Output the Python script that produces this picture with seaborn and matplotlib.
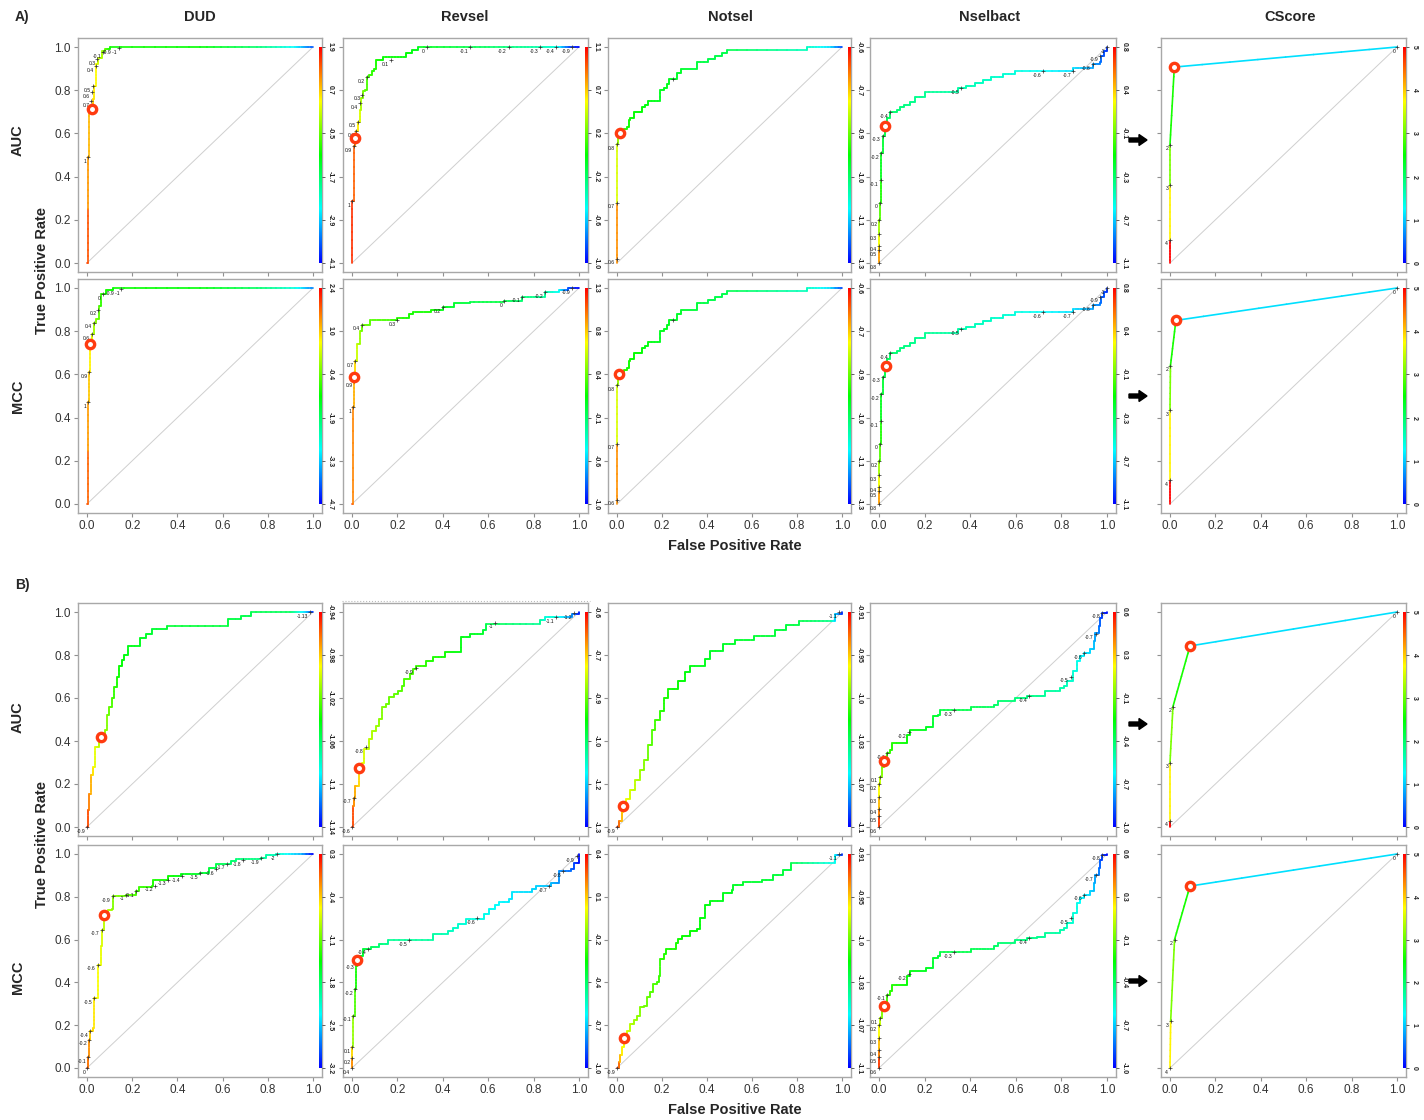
import numpy as np
import matplotlib
matplotlib.use("Agg")
import matplotlib.pyplot as plt
import seaborn as sns
from matplotlib.collections import LineCollection
from matplotlib.colors import LinearSegmentedColormap, Normalize
from matplotlib.patches import FancyArrow
from matplotlib.lines import Line2D
from matplotlib.transforms import IdentityTransform

sns.set_style("white")
plt.rcParams['font.family'] = ['Liberation Sans', 'DejaVu Sans']

# ---------------- data ----------------
col_titles = ['DUD', 'Revsel', 'Notsel', 'Nselbact', 'CScore']
row_names = ['AUC', 'MCC']
tick_labels = ['0.0', '0.2', '0.4', '0.6', '0.8', '1.0']

# A) DUD
a_dud_auc_fpr = [0, 0.003, 0.005, 0.009, 0.02, 0.026, 0.033, 0.04, 0.05, 0.065, 0.08, 0.1, 0.5, 0.75, 0.92, 1.0]
a_dud_auc_tpr = [0, 0.25, 0.49, 0.71, 0.72, 0.76, 0.82, 0.92, 0.95, 0.98, 0.99, 1.0, 1.0, 1.0, 1.0, 1.0]
a_dud_auc_cut = [1.9, 1.4, 1.0, 0.8, 0.75, 0.7, 0.5, 0.4, 0.1, -0.1, -0.5, -1.0, -1.1, -1.7, -2.6, -3.6]
a_dud_auc_best = (0.02, 0.715)
a_dud_auc_bar = ['1.9', '0.7', '-0.5', '-1.7', '-2.9', '-4.1']
a_dud_auc_lbl = [(0.004, 0.49, '1'), (0.018, 0.75, '0.7'), (0.022, 0.79, '0.6'), (0.026, 0.82, '0.5'),
                 (0.04, 0.91, '0.4'), (0.045, 0.945, '0.3'), (0.07, 0.975, '-0.1'), (0.14, 0.995, '-0.9 -1')]

a_dud_mcc_fpr = [0, 0.003, 0.006, 0.01, 0.012, 0.02, 0.03, 0.04, 0.052, 0.06, 0.085, 0.115, 0.5, 0.75, 0.92, 1.0]
a_dud_mcc_tpr = [0, 0.245, 0.47, 0.61, 0.742, 0.785, 0.84, 0.855, 0.915, 0.97, 0.99, 1.0, 1.0, 1.0, 1.0, 1.0]
a_dud_mcc_cut = [2.4, 1.7, 1.3, 1.0, 0.7, 0.4, 0.0, -0.2, -0.5, -0.8, -1.0, -1.1, -1.2, -1.8, -2.7, -3.8]
a_dud_mcc_best = (0.012, 0.742)
a_dud_mcc_bar = ['2.4', '1.0', '-0.4', '-1.9', '-3.3', '-4.7']
a_dud_mcc_lbl = [(0.006, 0.47, '1'), (0.01, 0.61, '0.9'), (0.02, 0.785, '0.6'), (0.03, 0.84, '0.4'),
                 (0.05, 0.9, '0.2'), (0.07, 0.97, '0'), (0.15, 0.995, '-0.9 -1')]

# A) Revsel
a_rev_auc_fpr = [0, 0.002, 0.007, 0.015, 0.019, 0.026, 0.034, 0.041, 0.048, 0.059, 0.066, 0.077, 0.088,
                 0.095, 0.107, 0.136, 0.24, 0.265, 0.29, 0.52, 0.69, 0.83, 0.9, 0.95, 1.0]
a_rev_auc_tpr = [0, 0.285, 0.54, 0.58, 0.61, 0.655, 0.71, 0.765, 0.795, 0.80, 0.86, 0.87, 0.89,
                 0.90, 0.94, 0.955, 0.97, 0.985, 1.0, 1.0, 1.0, 1.0, 1.0, 1.0, 1.0]
a_rev_auc_cut = [1.1, 1.0, 0.9, 0.8, 0.7, 0.6, 0.5, 0.4, 0.3, 0.25, 0.2, 0.18, 0.15,
                 0.12, 0.1, 0.06, 0.04, 0.02, 0.0, -0.1, -0.2, -0.3, -0.4, -0.8, -1.0]
a_rev_auc_best = (0.015, 0.58)
a_rev_auc_bar = ['1.1', '0.7', '0.2', '-0.2', '-0.6', '-1.0']
a_rev_auc_lbl = [(0.002, 0.285, '1'), (0.007, 0.54, '0.9'), (0.019, 0.61, '0.6'), (0.026, 0.655, '0.5'),
                 (0.034, 0.74, '0.4'), (0.045, 0.78, '0.3'), (0.066, 0.86, '0.2'), (0.17, 0.94, '0.1'),
                 (0.33, 1.0, '0'), (0.52, 1.0, '-0.1'), (0.69, 1.0, '-0.2'), (0.83, 1.0, '-0.3'),
                 (0.9, 1.0, '-0.4'), (0.97, 1.0, '-0.9')]

a_rev_mcc_fpr = [0, 0.005, 0.01, 0.015, 0.02, 0.035, 0.044, 0.08, 0.17, 0.2, 0.25, 0.27, 0.35, 0.4,
                 0.45, 0.52, 0.67, 0.75, 0.85, 0.91, 0.95, 1.0]
a_rev_mcc_tpr = [0, 0.45, 0.59, 0.66, 0.74, 0.8, 0.83, 0.85, 0.85, 0.86, 0.88, 0.89, 0.90, 0.91,
                 0.93, 0.935, 0.94, 0.96, 0.98, 0.99, 1.0, 1.0]
a_rev_mcc_cut = [1.3, 1.0, 0.9, 0.8, 0.6, 0.5, 0.4, 0.35, 0.3, 0.25, 0.2, 0.2, 0.2, 0.1,
                 0.05, 0.0, 0.0, -0.1, -0.2, -0.4, -0.8, -1.0]
a_rev_mcc_best = (0.01, 0.59)
a_rev_mcc_bar = ['1.3', '0.8', '0.4', '-0.1', '-0.6', '-1.0']
a_rev_mcc_lbl = [(0.005, 0.45, '1'), (0.01, 0.57, '0.9'), (0.015, 0.66, '0.7'), (0.044, 0.83, '0.4'),
                 (0.2, 0.85, '0.3'), (0.4, 0.91, '0.2'), (0.67, 0.94, '0'), (0.75, 0.96, '-0.1'),
                 (0.85, 0.98, '-0.2'), (0.97, 1.0, '-0.9')]

# A) Notsel (same curve for AUC and MCC)
a_not_fpr = [0, 0, 0, 0.003, 0.015, 0.03, 0.044, 0.052, 0.059, 0.077, 0.111, 0.126, 0.136, 0.189,
             0.21, 0.222, 0.232, 0.266, 0.284, 0.354, 0.406, 0.436, 0.468, 0.49, 0.845, 0.95, 1.0]
a_not_tpr = [0, 0.28, 0.55, 0.58, 0.60, 0.62, 0.63, 0.66, 0.67, 0.70, 0.72, 0.73, 0.75, 0.80,
             0.81, 0.83, 0.85, 0.88, 0.90, 0.93, 0.945, 0.957, 0.972, 0.988, 1.0, 1.0, 1.0]
a_not_cut = [-0.6, -0.7, -0.8, -0.85, -0.9, -0.92, -0.93, -0.94, -0.94, -0.95, -0.95, -0.96, -0.96, -0.97,
             -0.97, -0.97, -0.97, -0.98, -0.98, -0.99, -1.0, -1.0, -1.0, -1.0, -1.08, -1.15, -1.25]
a_not_auc_best = (0.015, 0.60)
a_not_mcc_best = (0.01, 0.60)
a_not_bar = ['-0.6', '-0.7', '-0.9', '-1.0', '-1.1', '-1.3']
a_not_lbl = [(0, 0.02, '0.6'), (0, 0.28, '0.7'), (0, 0.55, '0.8'), (0.25, 0.85, '')]

# A) Nselbact (same curve for AUC and MCC)
a_nsb_fpr = [0, 0, 0, 0, 0.001, 0.004, 0.007, 0.01, 0.016, 0.026, 0.037, 0.048, 0.077, 0.092, 0.11, 0.136,
             0.158, 0.2, 0.345, 0.38, 0.42, 0.458, 0.49, 0.545, 0.597, 0.853, 0.937, 0.97, 0.972, 0.985, 1.0]
a_nsb_tpr = [0, 0.06, 0.08, 0.135, 0.2, 0.28, 0.385, 0.51, 0.59, 0.635, 0.67, 0.70, 0.71, 0.72, 0.73, 0.745,
             0.77, 0.79, 0.81, 0.82, 0.835, 0.845, 0.86, 0.875, 0.888, 0.903, 0.92, 0.93, 0.96, 0.98, 1.0]
a_nsb_cut = [0.8, 0.5, 0.4, 0.3, 0.15, 0.0, -0.1, -0.2, -0.24, -0.28, -0.31, -0.34, -0.36, -0.38, -0.39, -0.4,
             -0.41, -0.42, -0.46, -0.48, -0.5, -0.51, -0.52, -0.54, -0.56, -0.68, -0.8, -0.85, -0.9, -0.95, -1.0]
a_nsb_auc_best = (0.026, 0.635)
a_nsb_mcc_best = (0.03, 0.64)
a_nsb_bar = ['0.8', '0.4', '-0.1', '-0.3', '-0.7', '-1.1']
a_nsb_lbl = [(0, 0.0, '0.8'), (0, 0.06, '0.5'), (0, 0.08, '0.4'), (0, 0.135, '0.3'), (0.001, 0.2, '0.2'),
             (0.004, 0.28, '0'), (0.007, 0.385, '-0.1'), (0.01, 0.51, '-0.2'), (0.016, 0.59, '-0.3'),
             (0.05, 0.70, '-0.4'), (0.36, 0.81, '-0.5'), (0.72, 0.888, '-0.6'), (0.85, 0.888, '-0.7'),
             (0.937, 0.92, '-0.8'), (0.97, 0.96, '-0.9'), (1.0, 1.0, '-1')]

# A) CScore
a_cs_auc_fpr = [0, 0, 0, 0, 0, 0, 0, 0.019, 0.019, 1.0]
a_cs_auc_tpr = [0, 0.108, 0.108, 0.363, 0.363, 0.548, 0.548, 0.907, 0.907, 1.0]
a_cs_auc_cut = [5.0, 5.0, 3.8, 3.8, 3.1, 3.1, 2.6, 2.6, 1.1, 1.1]
a_cs_auc_best = (0.019, 0.907)
a_cs_auc_lbl = [(0, 0.108, '4'), (0, 0.363, '3'), (0, 0.548, '2'), (1.0, 1.0, '0')]
a_cs_mcc_fpr = [0, 0, 0, 0, 0, 0.002, 0.002, 0.026, 0.026, 1.0]
a_cs_mcc_tpr = [0, 0.11, 0.11, 0.435, 0.435, 0.64, 0.64, 0.85, 0.85, 1.0]
a_cs_mcc_cut = [5.0, 5.0, 3.8, 3.8, 3.1, 3.1, 2.6, 2.6, 1.1, 1.1]
a_cs_mcc_best = (0.026, 0.85)
a_cs_mcc_lbl = [(0, 0.11, '4'), (0, 0.435, '3'), (0.002, 0.64, '2'), (1.0, 1.0, '0')]
cs_bar = ['5', '4', '3', '2', '1', '0']

# B) DUD
b_dud_auc_fpr = [0, 0.006, 0.01, 0.018, 0.025, 0.035, 0.05, 0.055, 0.062, 0.081, 0.087, 0.099, 0.109, 0.121,
                 0.131, 0.143, 0.154, 0.165, 0.18, 0.235, 0.261, 0.286, 0.355, 0.623, 0.683, 0.727, 0.9, 0.97, 1.0]
b_dud_auc_tpr = [0, 0.078, 0.155, 0.24, 0.28, 0.373, 0.373, 0.404, 0.417, 0.45, 0.52, 0.56, 0.6, 0.653,
                 0.7, 0.747, 0.778, 0.80, 0.84, 0.879, 0.9, 0.922, 0.936, 0.967, 0.983, 1.0, 1.0, 1.0, 1.0]
b_dud_auc_cut = [-0.94, -0.955, -0.965, -0.975, -0.985, -0.995, -1.0, -1.003, -1.006, -1.01, -1.015, -1.02,
                 -1.025, -1.03, -1.035, -1.038, -1.04, -1.042, -1.044, -1.046, -1.048, -1.05, -1.05, -1.052,
                 -1.054, -1.055, -1.058, -1.1, -1.13]
b_dud_auc_best = (0.062, 0.417)
b_dud_auc_bar = ['-0.94', '-0.98', '-1.02', '-1.06', '-1.1', '-1.14']
b_dud_auc_lbl = [(0, 0, '-0.9'), (0.985, 1.0, '-1.13')]

b_dud_mcc_fpr = [0, 0.006, 0.01, 0.013, 0.025, 0.032, 0.047, 0.062, 0.065, 0.077, 0.092, 0.109, 0.114, 0.173,
                 0.217, 0.232, 0.288, 0.291, 0.357, 0.416, 0.498, 0.542, 0.572, 0.638, 0.66, 0.771, 0.793,
                 0.838, 0.95, 1.0]
b_dud_mcc_tpr = [0, 0.05, 0.132, 0.171, 0.187, 0.327, 0.483, 0.569, 0.646, 0.713, 0.74, 0.745, 0.802, 0.81,
                 0.826, 0.846, 0.852, 0.877, 0.896, 0.908, 0.911, 0.935, 0.955, 0.966, 0.977, 0.98, 0.997,
                 1.0, 1.0, 1.0]
b_dud_mcc_cut = [0.3, -0.1, -0.2, -0.4, -0.45, -0.5, -0.6, -0.65, -0.7, -0.8, -0.85, -0.9, -1.0, -1.1,
                 -1.2, -1.25, -1.3, -1.35, -1.4, -1.5, -1.6, -1.65, -1.7, -1.8, -1.85, -1.9, -2.0,
                 -2.1, -2.6, -3.2]
b_dud_mcc_best = (0.077, 0.713)
b_dud_mcc_bar = ['0.3', '-0.4', '-1.1', '-1.8', '-2.5', '-3.2']
b_dud_mcc_lbl = [(0, 0, '0'), (0.006, 0.05, '-0.1'), (0.01, 0.132, '-0.2'), (0.013, 0.171, '-0.4'),
                 (0.032, 0.327, '-0.5'), (0.047, 0.483, '-0.6'), (0.065, 0.646, '-0.7'), (0.114, 0.802, '-0.9'),
                 (0.173, 0.81, '-1'), (0.217, 0.826, '-1.1'), (0.3, 0.852, '-1.2'), (0.36, 0.88, '-1.3'),
                 (0.42, 0.895, '-1.4'), (0.5, 0.91, '-1.5'), (0.57, 0.93, '-1.6'), (0.62, 0.955, '-1.7'),
                 (0.69, 0.97, '-1.8'), (0.77, 0.98, '-1.9'), (0.84, 1.0, '-2')]

# B) Revsel
b_rev_auc_fpr = [0, 0.004, 0.007, 0.015, 0.033, 0.045, 0.052, 0.075, 0.09, 0.104, 0.119, 0.134, 0.149, 0.164,
                 0.187, 0.201, 0.22, 0.231, 0.254, 0.269, 0.284, 0.328, 0.358, 0.41, 0.478, 0.522, 0.575,
                 0.59, 0.828, 0.851, 0.896, 0.97, 1.0]
b_rev_auc_tpr = [0, 0.097, 0.136, 0.19, 0.276, 0.299, 0.361, 0.408, 0.447, 0.47, 0.502, 0.556, 0.572, 0.603,
                 0.618, 0.634, 0.657, 0.688, 0.712, 0.735, 0.75, 0.774, 0.79, 0.813, 0.883, 0.899, 0.914,
                 0.945, 0.961, 0.977, 0.977, 0.99, 1.0]
b_rev_auc_cut = [-0.6, -0.65, -0.7, -0.72, -0.75, -0.78, -0.8, -0.82, -0.83, -0.84, -0.85, -0.86, -0.87, -0.88,
                 -0.88, -0.89, -0.89, -0.9, -0.9, -0.9, -0.91, -0.92, -0.93, -0.94, -0.96, -0.97, -0.98,
                 -1.0, -1.05, -1.1, -1.1, -1.2, -1.28]
b_rev_auc_best = (0.033, 0.276)
b_rev_auc_bar = ['-0.6', '-0.7', '-0.9', '-1.0', '-1.2', '-1.3']
b_rev_auc_lbl = [(0, 0, '-0.6'), (0.007, 0.136, '-0.7'), (0.06, 0.37, '-0.8'), (0.28, 0.74, '-0.9'),
                 (0.63, 0.95, '-1'), (0.9, 0.977, '-1.1'), (0.98, 0.995, '-1.2')]

b_rev_mcc_fpr = [0, 0.0, 0.002, 0.004, 0.012, 0.019, 0.023, 0.034, 0.048, 0.07, 0.085, 0.119, 0.158, 0.359,
                 0.422, 0.444, 0.466, 0.502, 0.582, 0.605, 0.63, 0.648, 0.692, 0.704, 0.795, 0.81, 0.876,
                 0.912, 0.963, 0.978, 1.0]
b_rev_mcc_tpr = [0, 0.047, 0.098, 0.245, 0.369, 0.477, 0.504, 0.524, 0.555, 0.558, 0.567, 0.578, 0.597, 0.625,
                 0.64, 0.656, 0.671, 0.695, 0.718, 0.741, 0.76, 0.775, 0.788, 0.822, 0.837, 0.85, 0.865,
                 0.919, 0.929, 0.956, 1.0]
b_rev_mcc_cut = [0.4, 0.2, 0.1, -0.1, -0.2, -0.28, -0.3, -0.33, -0.37, -0.4, -0.42, -0.45, -0.5, -0.52,
                 -0.55, -0.57, -0.58, -0.6, -0.62, -0.63, -0.64, -0.65, -0.67, -0.68, -0.7, -0.71, -0.74,
                 -0.8, -0.85, -0.9, -0.98]
b_rev_mcc_best = (0.023, 0.504)
b_rev_mcc_bar = ['0.4', '0.1', '-0.2', '-0.4', '-0.7', '-1.0']
b_rev_mcc_lbl = [(0, 0, '0.4'), (0.002, 0.047, '0.2'), (0.002, 0.098, '0.1'), (0.004, 0.245, '-0.1'),
                 (0.012, 0.369, '-0.2'), (0.02, 0.49, '-0.3'), (0.07, 0.558, '-0.4'), (0.25, 0.597, '-0.5'),
                 (0.55, 0.7, '-0.6'), (0.87, 0.85, '-0.7'), (0.93, 0.92, '-0.8'), (0.99, 0.99, '-0.9')]

# B) Notsel
b_not_auc_fpr = [0, 0.01, 0.02, 0.027, 0.04, 0.058, 0.08, 0.1, 0.12, 0.138, 0.155, 0.169, 0.19, 0.21, 0.227,
                 0.27, 0.3, 0.324, 0.39, 0.413, 0.47, 0.524, 0.61, 0.7, 0.75, 0.81, 0.95, 0.97, 1.0]
b_not_auc_tpr = [0, 0.03, 0.07, 0.10, 0.13, 0.17, 0.22, 0.265, 0.31, 0.38, 0.45, 0.5, 0.54, 0.6, 0.64,
                 0.68, 0.72, 0.75, 0.78, 0.82, 0.85, 0.87, 0.89, 0.915, 0.94, 0.96, 0.96, 0.99, 1.0]
b_not_auc_cut = [-0.91, -0.93, -0.945, -0.955, -0.96, -0.965, -0.97, -0.975, -0.98, -0.985, -0.99, -0.993,
                 -0.996, -1.0, -1.002, -1.004, -1.006, -1.008, -1.01, -1.011, -1.012, -1.013, -1.014, -1.015,
                 -1.016, -1.018, -1.03, -1.06, -1.09]
b_not_auc_best = (0.027, 0.10)
b_not_mcc_fpr = [0, 0.007, 0.015, 0.022, 0.03, 0.044, 0.059, 0.074, 0.089, 0.1, 0.118, 0.133, 0.148, 0.16,
                 0.177, 0.185, 0.192, 0.207, 0.218, 0.263, 0.273, 0.288, 0.325, 0.354, 0.369, 0.391, 0.414,
                 0.473, 0.51, 0.517, 0.562, 0.643, 0.694, 0.739, 0.775, 0.967, 1.0]
b_not_mcc_tpr = [0, 0.028, 0.059, 0.098, 0.141, 0.175, 0.206, 0.222, 0.245, 0.284, 0.291, 0.33, 0.353, 0.392,
                 0.4, 0.431, 0.508, 0.532, 0.555, 0.586, 0.602, 0.617, 0.64, 0.648, 0.702, 0.764, 0.78,
                 0.819, 0.834, 0.853, 0.868, 0.88, 0.904, 0.927, 0.958, 0.997, 1.0]
b_not_mcc_cut = [-0.91, -0.93, -0.945, -0.955, -0.96, -0.965, -0.97, -0.975, -0.978, -0.98, -0.983, -0.985,
                 -0.988, -0.99, -0.992, -0.994, -0.996, -0.998, -1.0, -1.0, -1.002, -1.003, -1.004, -1.005,
                 -1.006, -1.007, -1.008, -1.01, -1.01, -1.012, -1.013, -1.014, -1.015, -1.016, -1.018,
                 -1.05, -1.09]
b_not_mcc_best = (0.03, 0.141)
b_not_bar = ['-0.91', '-0.95', '-1.0', '-1.03', '-1.07', '-1.1']
b_not_lbl = [(0, 0, '-0.9'), (0.985, 1.0, '-1.1')]

# B) Nselbact (same curve for AUC and MCC)
b_nsb_fpr = [0, 0, 0, 0, 0, 0.004, 0.012, 0.022, 0.034, 0.048, 0.056, 0.122, 0.136, 0.208, 0.237, 0.259,
             0.268, 0.403, 0.505, 0.524, 0.597, 0.649, 0.692, 0.729, 0.795, 0.813, 0.824, 0.853, 0.868,
             0.883, 0.897, 0.927, 0.941, 0.949, 0.963, 0.968, 0.978, 1.0]
b_nsb_tpr = [0, 0.05, 0.085, 0.14, 0.2, 0.234, 0.28, 0.308, 0.343, 0.358, 0.389, 0.428, 0.452, 0.467, 0.514,
             0.522, 0.542, 0.558, 0.569, 0.584, 0.6, 0.607, 0.611, 0.631, 0.646, 0.654, 0.678, 0.724, 0.771,
             0.794, 0.807, 0.826, 0.864, 0.903, 0.935, 0.974, 0.997, 1.0]
b_nsb_cut = [0.6, 0.5, 0.4, 0.3, 0.2, 0.1, 0.0, -0.05, -0.1, -0.12, -0.15, -0.2, -0.22, -0.25, -0.27, -0.28,
             -0.3, -0.32, -0.35, -0.37, -0.39, -0.4, -0.42, -0.44, -0.46, -0.48, -0.5, -0.53, -0.56, -0.6,
             -0.62, -0.66, -0.7, -0.74, -0.8, -0.85, -0.9, -0.98]
b_nsb_auc_best = (0.022, 0.308)
b_nsb_mcc_best = (0.022, 0.29)
b_nsb_bar = ['0.6', '0.3', '-0.1', '-0.4', '-0.7', '-1.0']
b_nsb_lbl = [(0, 0, '0.6'), (0, 0.05, '0.5'), (0, 0.085, '0.4'), (0, 0.14, '0.3'), (0, 0.2, '0.2'),
             (0.004, 0.234, '0.1'), (0.034, 0.343, '-0.1'), (0.13, 0.44, '-0.2'), (0.33, 0.542, '-0.3'),
             (0.66, 0.607, '-0.4'), (0.84, 0.7, '-0.5'), (0.9, 0.81, '-0.6'), (0.95, 0.9, '-0.7'),
             (0.98, 0.997, '-0.8')]

# B) CScore
b_cs_auc_fpr = [0, 0, 0, 0, 0, 0.013, 0.013, 0.088, 0.088, 1.0]
b_cs_auc_tpr = [0, 0.03, 0.03, 0.3, 0.3, 0.56, 0.56, 0.842, 0.842, 1.0]
b_cs_auc_cut = [5.0, 5.0, 3.8, 3.8, 3.1, 3.1, 2.6, 2.6, 1.1, 1.1]
b_cs_auc_best = (0.088, 0.842)
b_cs_auc_lbl = [(0, 0.03, '4'), (0, 0.3, '3'), (0.013, 0.56, '2'), (1.0, 1.0, '0')]
b_cs_mcc_fpr = [0, 0.003, 0.003, 0.02, 0.02, 0.088, 0.088, 1.0]
b_cs_mcc_tpr = [0, 0.22, 0.22, 0.6, 0.6, 0.85, 0.85, 1.0]
b_cs_mcc_cut = [3.8, 3.8, 3.1, 3.1, 2.6, 2.6, 1.1, 1.1]
b_cs_mcc_best = (0.088, 0.85)
b_cs_mcc_lbl = [(0, 0, '4'), (0.003, 0.22, '3'), (0.02, 0.6, '2'), (1.0, 1.0, '0')]

# ---------------- layout (pixel positions of data 0 and 1) ----------------
W, H = 1424, 1120
col_px = [(87, 313), (352, 579), (617, 842), (879, 1107), (1170, 1397)]
row_px = [(47, 263), (288, 504), (612, 827), (854, 1068)]

# (row, col, fpr, tpr, cut, best, bar, labels, stepped)
panels = [
    (0, 0, a_dud_auc_fpr, a_dud_auc_tpr, a_dud_auc_cut, a_dud_auc_best, a_dud_auc_bar, a_dud_auc_lbl, True),
    (1, 0, a_dud_mcc_fpr, a_dud_mcc_tpr, a_dud_mcc_cut, a_dud_mcc_best, a_dud_mcc_bar, a_dud_mcc_lbl, True),
    (0, 1, a_rev_auc_fpr, a_rev_auc_tpr, a_rev_auc_cut, a_rev_auc_best, a_rev_auc_bar, a_rev_auc_lbl, True),
    (1, 1, a_rev_mcc_fpr, a_rev_mcc_tpr, a_rev_mcc_cut, a_rev_mcc_best, a_rev_mcc_bar, a_rev_mcc_lbl, True),
    (0, 2, a_not_fpr, a_not_tpr, a_not_cut, a_not_auc_best, a_not_bar, a_not_lbl, True),
    (1, 2, a_not_fpr, a_not_tpr, a_not_cut, a_not_mcc_best, a_not_bar, a_not_lbl, True),
    (0, 3, a_nsb_fpr, a_nsb_tpr, a_nsb_cut, a_nsb_auc_best, a_nsb_bar, a_nsb_lbl, True),
    (1, 3, a_nsb_fpr, a_nsb_tpr, a_nsb_cut, a_nsb_mcc_best, a_nsb_bar, a_nsb_lbl, True),
    (0, 4, a_cs_auc_fpr, a_cs_auc_tpr, a_cs_auc_cut, a_cs_auc_best, cs_bar, a_cs_auc_lbl, False),
    (1, 4, a_cs_mcc_fpr, a_cs_mcc_tpr, a_cs_mcc_cut, a_cs_mcc_best, cs_bar, a_cs_mcc_lbl, False),
    (2, 0, b_dud_auc_fpr, b_dud_auc_tpr, b_dud_auc_cut, b_dud_auc_best, b_dud_auc_bar, b_dud_auc_lbl, True),
    (3, 0, b_dud_mcc_fpr, b_dud_mcc_tpr, b_dud_mcc_cut, b_dud_mcc_best, b_dud_mcc_bar, b_dud_mcc_lbl, True),
    (2, 1, b_rev_auc_fpr, b_rev_auc_tpr, b_rev_auc_cut, b_rev_auc_best, b_rev_auc_bar, b_rev_auc_lbl, True),
    (3, 1, b_rev_mcc_fpr, b_rev_mcc_tpr, b_rev_mcc_cut, b_rev_mcc_best, b_rev_mcc_bar, b_rev_mcc_lbl, True),
    (2, 2, b_not_auc_fpr, b_not_auc_tpr, b_not_auc_cut, b_not_auc_best, b_not_bar, b_not_lbl, True),
    (3, 2, b_not_mcc_fpr, b_not_mcc_tpr, b_not_mcc_cut, b_not_mcc_best, b_not_bar, b_not_lbl, True),
    (2, 3, b_nsb_fpr, b_nsb_tpr, b_nsb_cut, b_nsb_auc_best, b_nsb_bar, b_nsb_lbl, True),
    (3, 3, b_nsb_fpr, b_nsb_tpr, b_nsb_cut, b_nsb_mcc_best, b_nsb_bar, b_nsb_lbl, True),
    (2, 4, b_cs_auc_fpr, b_cs_auc_tpr, b_cs_auc_cut, b_cs_auc_best, cs_bar, b_cs_auc_lbl, False),
    (3, 4, b_cs_mcc_fpr, b_cs_mcc_tpr, b_cs_mcc_cut, b_cs_mcc_best, cs_bar, b_cs_mcc_lbl, False),
]

# ROCR-like rainbow: blue -> cyan -> green -> yellow -> red
roc_cmap = LinearSegmentedColormap.from_list('roc', ['#0000ff', '#00ffff', '#00ff00', '#ffff00', '#ff0000'])


def rect(cx, ry):
    x0, x1 = cx
    yt, yb = ry
    sx, sy = x1 - x0, yb - yt
    return [(x0 - 0.04 * sx) / W, 1 - (yb + 0.04 * sy) / H, 1.08 * sx / W, 1.08 * sy / H]


def draw_curve(ax, fpr, tpr, cut, vmin, vmax, stepped):
    xs, ys, cs = [fpr[0]], [tpr[0]], [cut[0]]
    for i in range(1, len(fpr)):
        if stepped:
            xs.append(fpr[i]); ys.append(tpr[i - 1]); cs.append(cut[i])
        xs.append(fpr[i]); ys.append(tpr[i]); cs.append(cut[i])
    segs, vals = [], []
    t = np.linspace(0, 1, 9)
    for i in range(len(xs) - 1):
        px = xs[i] + (xs[i + 1] - xs[i]) * t
        py = ys[i] + (ys[i + 1] - ys[i]) * t
        pc = cs[i] + (cs[i + 1] - cs[i]) * t
        for j in range(len(t) - 1):
            segs.append([(px[j], py[j]), (px[j + 1], py[j + 1])])
            vals.append(0.5 * (pc[j] + pc[j + 1]))
    lc = LineCollection(segs, cmap=roc_cmap, norm=Normalize(vmin, vmax), linewidths=1.2,
                        capstyle='round', zorder=3)
    lc.set_array(np.array(vals))
    ax.add_collection(lc)


fig = plt.figure(figsize=(14.24, 11.2), dpi=100)

for r, c, fpr, tpr, cut, best, bar, lbl, stepped in panels:
    ax = fig.add_axes(rect(col_px[c], row_px[r]))
    vmax, vmin = float(bar[0]), float(bar[-1])
    sns.lineplot(x=[0, 1], y=[0, 1], ax=ax, color='#cfcfcf', lw=0.7)
    draw_curve(ax, fpr, tpr, cut, vmin, vmax, stepped)
    # cutoff marks with their small labels
    lx = [p[0] for p in lbl]
    ly = [p[1] for p in lbl]
    ax.plot(lx, ly, '+', ms=2.5, mew=0.5, color='#333333', zorder=4)
    for x, y, s in lbl:
        ax.text(x - 0.008, y - 0.008, s, fontsize=3.6, ha='right', va='top', color='#111111', zorder=4)
    ax.plot(best[0], best[1], 'o', ms=6, mfc='white', mec='#ff3b10', mew=2.4, zorder=5)
    # colour key along the right edge
    ax.imshow(np.linspace(0, 1, 256)[:, None], cmap=roc_cmap, origin='lower', aspect='auto',
              extent=(1.027, 1.04, 0, 1), zorder=4)
    ax.set_xlim(-0.04, 1.04)
    ax.set_ylim(-0.04, 1.04)
    ax.set_xticks(np.linspace(0, 1, 6))
    ax.set_yticks(np.linspace(0, 1, 6))
    ax.set_xticklabels(tick_labels)
    ax.set_yticklabels(tick_labels)
    ax.tick_params(left=True, bottom=True, length=3, width=0.8, color='#909090',
                   labelsize=8.5, labelcolor='#333333', pad=2)
    ax.tick_params(labelleft=(c == 0), labelbottom=(r in (1, 3)))
    for s in ax.spines.values():
        s.set_color('#a8a8a8')
        s.set_linewidth(1.0)

    ax2 = ax.twinx()
    ax2.set_ylim(-0.04, 1.04)
    ax2.set_yticks(np.linspace(0, 1, 6))
    ax2.set_yticklabels(bar[::-1], rotation=-90, fontsize=5, fontweight='bold', va='center')
    ax2.tick_params(axis='y', right=True, length=2, width=0.5, pad=1.5, colors='#222222')
    for s in ax2.spines.values():
        s.set_visible(False)


def ftext(x, y, s, **kw):
    fig.text(x / W, 1 - y / H, s, ha='center', va='center', fontweight='bold', **kw)


ftext(22, 17, 'A)', fontsize=10)
ftext(22, 585, 'B)', fontsize=10)
for title, x in zip(col_titles, [200, 465, 730, 990, 1290]):
    ftext(x, 17, title, fontsize=10.5)
for y, name in zip([140, 396, 717, 977], row_names * 2):
    ftext(18, y, name, fontsize=10.5, rotation=90)
for y in [270, 845]:
    ftext(42, y, 'True Positive Rate', fontsize=10.5, rotation=90)
for y in [546, 1110]:
    ftext(735, y, 'False Positive Rate', fontsize=10.5)

# arrows pointing to the CScore column
for y in [140, 396, 724, 981]:
    fig.add_artist(FancyArrow(1129, H - y, 10, 0, width=4, head_width=11, head_length=8,
                              length_includes_head=False, color='black', transform=IdentityTransform()))

# faint dotted line above the B) Revsel panel
fig.add_artist(Line2D([342 / W, 590 / W], [1 - 601 / H, 1 - 601 / H], color='#bbbbbb', lw=0.8,
                      ls=':', transform=fig.transFigure))

fig.savefig('out.png', dpi=100)
